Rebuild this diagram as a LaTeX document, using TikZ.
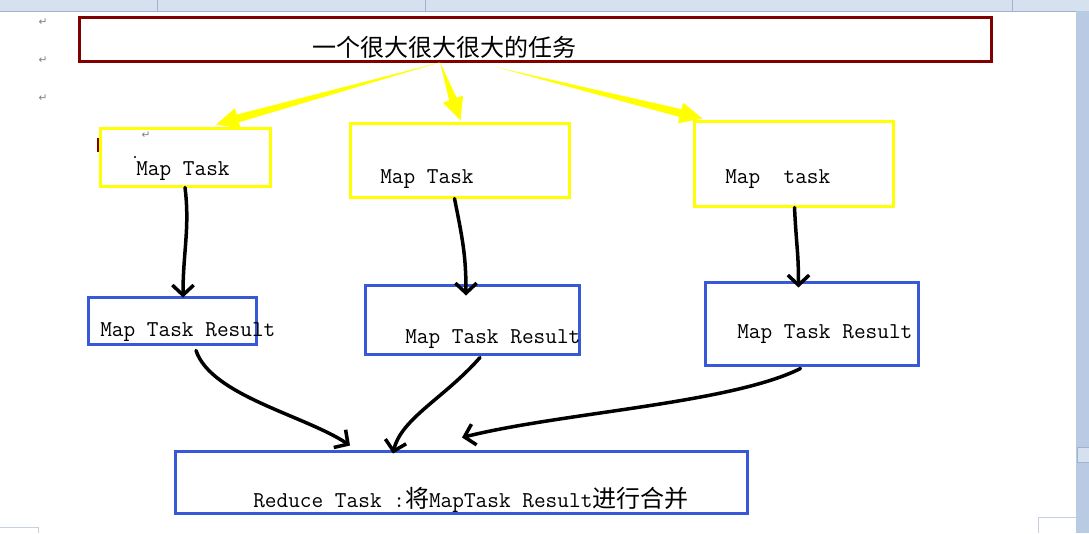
\documentclass[tikz,border=0pt]{standalone}
\usepackage{fontspec}
\newfontfamily\cjk{Noto Sans CJK SC}
\newfontfamily\marksfont{DejaVu Sans}
\usetikzlibrary{arrows.meta,calc}
\newdimen\pxu \pxu=0.75pt
\newcommand{\zhtext}[1]{{\cjk\fontsize{18}{20}\selectfont #1}}
% tapered block arrow from #1 to #2
\newcommand{\forkarrow}[2]{%
  \fill[taskyellow] (#1) -- ($(#2)!17pt!(#1)!3pt!90:(#1)$) -- ($(#2)!17pt!(#1)!8pt!90:(#1)$)
    -- (#2) -- ($(#2)!17pt!(#1)!8pt!-90:(#1)$) -- ($(#2)!17pt!(#1)!3pt!-90:(#1)$) -- cycle;}
\definecolor{taskred}{RGB}{128,0,0}
\definecolor{taskyellow}{RGB}{255,255,0}
\definecolor{resultblue}{RGB}{55,88,215}
\definecolor{barblue}{RGB}{184,203,226}
\definecolor{bandblue}{RGB}{214,225,240}
\definecolor{edgegray}{RGB}{160,178,204}
\tikzset{
  bigbox/.style={draw=taskred, line width=3\pxu, inner sep=0pt},
  mapbox/.style={draw=taskyellow, line width=3\pxu, inner sep=0pt},
  resbox/.style={draw=resultblue, line width=3\pxu, inner sep=0pt},
  monotext/.style={anchor=base west, inner sep=0pt, font=\fontsize{17}{20}\selectfont\ttfamily},
  cjktext/.style={inner sep=0pt, font=\cjk\fontsize{18}{20}\selectfont},
  pmark/.style={inner sep=0pt, text=gray, font=\marksfont\fontsize{8}{9}\selectfont},
  hand/.style={draw=black, line width=3.5\pxu, line cap=round, line join=round,
    -{Straight Barb[length=7.5pt, width=16pt]}}
}
\begin{document}
\begin{tikzpicture}[x=0.75pt, y=-0.75pt]
\useasboundingbox (0,0) rectangle (1089,533);
% Word window edges
\fill[bandblue] (0,0) rectangle (1089,11);
\draw[edgegray] (0,11) -- (1076,11);
\draw[edgegray] (157,0) -- (157,11) (425,0) -- (425,11) (1012,0) -- (1012,11);
\fill[barblue] (1076,11) rectangle (1089,533);
\draw[edgegray, fill=bandblue] (1077,447) rectangle (1089,462);
\draw[edgegray!60] (0,527) -- (38,527) -- (38,533);
\draw[edgegray!60] (1076,517) -- (1038,517) -- (1038,533);
% paragraph marks
\node[pmark] (pm1) at (43,22) {↵};
\node[pmark] (pm2) at (43,60) {↵};
\node[pmark] (pm3) at (43,98) {↵};
\node[pmark] (pm4) at (146,135) {↵};
\fill[taskred] (97,138) rectangle (100,152);
\fill (135,157) circle (1.2);

% the big task
\node[bigbox, minimum width=912\pxu, minimum height=44\pxu] (task) at (535,39) {};
\node[cjktext] (tasklabel) at (444,47) {一个很大很大很大的任务};

% map tasks
\node[mapbox, minimum width=170\pxu, minimum height=58\pxu] (map1) at (185,157) {};
\node[mapbox, minimum width=219\pxu, minimum height=74\pxu] (map2) at (459.5,160) {};
\node[mapbox, minimum width=199\pxu, minimum height=85\pxu] (map3) at (793.5,163.5) {};
\node[monotext] (map1label) at (136,175) {Map Task};
\node[monotext] (map2label) at (380,183) {Map Task};
\node[monotext] (map3label) at (725,183) {Map~~task};

% results
\node[resbox, minimum width=168\pxu, minimum height=47\pxu] (res1) at (172,320.5) {};
\node[resbox, minimum width=214\pxu, minimum height=69\pxu] (res2) at (472,319.5) {};
\node[resbox, minimum width=213\pxu, minimum height=83\pxu] (res3) at (811.5,323.5) {};
\node[monotext] (res1label) at (100,336) {Map Task Result};
\node[monotext] (res2label) at (405,343) {Map Task Result};
\node[monotext] (res3label) at (737,338) {Map Task Result};

% reduce
\node[resbox, minimum width=572\pxu, minimum height=62\pxu] (reduce) at (461,482) {};
\node[monotext] (reducelabel) at (253,507) {Reduce Task :\zhtext{将}MapTask Result\zhtext{进行合并}};

% split
\coordinate (split1) at ($(tasklabel.south)+(-4,4)$);
\coordinate (split2) at ($(tasklabel.south)+(53,9)$);
\coordinate (in1) at ($(map1.north)+(31,-2)$);
\coordinate (in2) at ($(map2.north)+(1,-1)$);
\coordinate (in3) at ($(map3.north)+(-91,-1)$);
\forkarrow{split1}{in1}
\forkarrow{split1}{in2}
\forkarrow{split2}{in3}

% map -> result
\draw[hand] (map1.south) .. controls +(5,40) and +(0,-45) .. ($(res1.north)+(11,2)$);
\draw[hand] ($(map2.south)+(-5,0)$) .. controls +(8,40) and +(0,-40) .. ($(res2.north)+(-6,12)$);
\draw[hand] ($(map3.south)+(1,0)$) .. controls +(2,40) and +(0,-35) .. ($(res3.north)+(-13,7)$);

% result -> reduce
\draw[hand] ($(res1.south)+(24,5)$) .. controls +(15,45) and +(-45,-30) .. ($(reduce.north)+(-111,-4)$);
\draw[hand] ($(res2.south)+(8,2)$) .. controls +(-35,40) and +(8,-35) .. ($(reduce.north)+(-68,4)$);
\draw[hand] ($(res3.south)+(-11,2)$) .. controls +(-70,35) and +(100,-25) .. ($(reduce.north)+(1,-12)$);
\end{tikzpicture}
\end{document}
